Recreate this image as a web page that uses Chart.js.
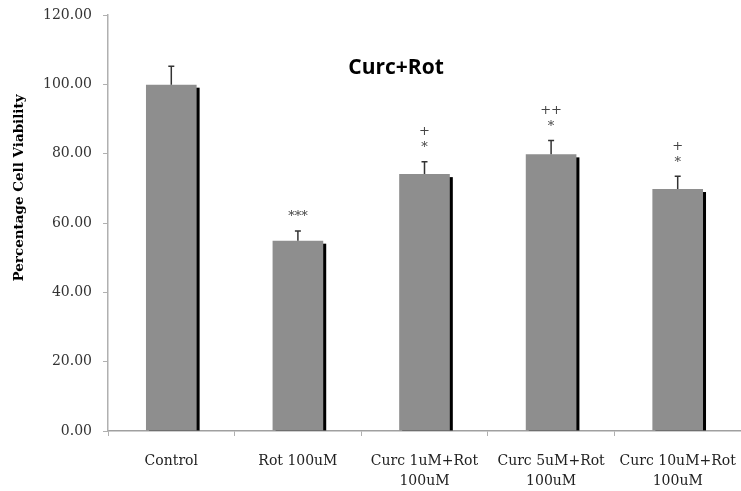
<!DOCTYPE html>
<html>
<head>
<meta charset="utf-8">
<script src="https://cdn.jsdelivr.net/npm/chart.js@4.4.1/dist/chart.umd.min.js"></script>
<style>
  html, body { margin: 0; padding: 0; background: #fff; }
  #wrap { width: 741px; height: 491px; }
</style>
</head>
<body>
<div id="wrap"><canvas id="grafico" width="741" height="491"></canvas></div>
<script>
// valores
const categorias = ["Control", "Rot 100uM", ["Curc 1uM+Rot", "100uM"], ["Curc 5uM+Rot", "100uM"], ["Curc 10uM+Rot", "100uM"]];
const viabilidade = [99.9, 54.9, 74.1, 79.8, 69.8];
const erros = [5.3, 2.8, 3.6, 4.0, 3.7];
const marcas = [[], ["***"], ["*", "+"], ["*", "++"], ["*", "+"]];
const ticksY = [0, 20, 40, 60, 80, 100, 120];

const fonteSerif = "'DejaVu Serif', 'Liberation Serif', serif";

// sombra preta atras de cada barra
const sombraBarras = {
    id: "sombraBarras",
    beforeDatasetsDraw(chart) {
        const ctx = chart.ctx;
        const meta = chart.getDatasetMeta(0);
        ctx.save();
        ctx.fillStyle = "#000";
        meta.data.forEach(bar => {
            const w = bar.width;
            ctx.fillRect(bar.x - w / 2 + 3, bar.y + 3, w, bar.base - bar.y - 3);
        });
        ctx.restore();
    }
};

// barras de erro + asteriscos, titulo e titulo do eixo
const extras = {
    id: "extras",
    afterDatasetsDraw(chart) {
        const ctx = chart.ctx;
        const y = chart.scales.y;
        const meta = chart.getDatasetMeta(0);
        ctx.save();
        meta.data.forEach((bar, i) => {
            const topo = y.getPixelForValue(viabilidade[i] + erros[i]);
            ctx.strokeStyle = "#333";
            ctx.lineWidth = 1.5;
            ctx.beginPath();
            ctx.moveTo(bar.x, bar.y);
            ctx.lineTo(bar.x, topo);
            ctx.moveTo(bar.x - 3, topo);
            ctx.lineTo(bar.x + 3, topo);
            ctx.stroke();

            ctx.fillStyle = "#444";
            ctx.font = "13px " + fonteSerif;
            ctx.textAlign = "center";
            ctx.textBaseline = "middle";
            marcas[i].forEach((m, k) => {
                ctx.fillText(m, bar.x, topo - 14 - k * 16);
            });
        });

        // titulo dentro do grafico
        ctx.fillStyle = "#000";
        ctx.font = "bold 21px 'Open Sans', 'Liberation Sans', sans-serif";
        ctx.textAlign = "center";
        ctx.textBaseline = "middle";
        ctx.fillText("Curc+Rot", 396, 68);

        // titulo do eixo y
        ctx.translate(19, 188);
        ctx.rotate(-Math.PI / 2);
        ctx.font = "bold 13.5px 'DejaVu Serif', serif";
        ctx.fillText("Percentage Cell Viability", 0, 0);
        ctx.restore();
    }
};

const ctx = document.getElementById("grafico").getContext("2d");
new Chart(ctx, {
    type: "bar",
    data: {
        labels: categorias,
        datasets: [{
            data: viabilidade,
            backgroundColor: "#8e8e8e",
            borderWidth: 0,
            barPercentage: 0.4,
            categoryPercentage: 1
        }]
    },
    options: {
        responsive: false,
        animation: false,
        devicePixelRatio: 1,
        layout: { padding: { top: 15, right: 0, left: 0, bottom: 0 } },
        plugins: {
            legend: { display: false },
            tooltip: { enabled: false }
        },
        scales: {
            x: {
                afterFit: s => {
                    s.height = 60;
                    s.paddingLeft = 0;
                    s.paddingRight = 0;
                },
                grid: {
                    offset: true,
                    drawOnChartArea: false,
                    color: "#b0b0b0",
                    tickLength: 5
                },
                border: { color: "#a0a0a0", width: 1.5 },
                ticks: {
                    color: "#222",
                    font: { family: fonteSerif, size: 14, lineHeight: 1.4 },
                    padding: 16,
                    maxRotation: 0,
                    autoSkip: false
                }
            },
            y: {
                min: 0,
                max: 120,
                afterFit: s => {
                    s.width = 108;
                    s.paddingTop = 0;
                    s.paddingBottom = 0;
                },
                afterBuildTicks: s => { s.ticks = ticksY.map(v => ({ value: v })); },
                grid: {
                    drawOnChartArea: false,
                    color: "#b0b0b0",
                    tickLength: 5
                },
                border: { color: "#b0b0b0", width: 1.5 },
                ticks: {
                    color: "#333",
                    font: { family: fonteSerif, size: 14 },
                    padding: 11,
                    callback: v => v.toFixed(2)
                }
            }
        }
    },
    plugins: [sombraBarras, extras]
});
</script>
</body>
</html>
